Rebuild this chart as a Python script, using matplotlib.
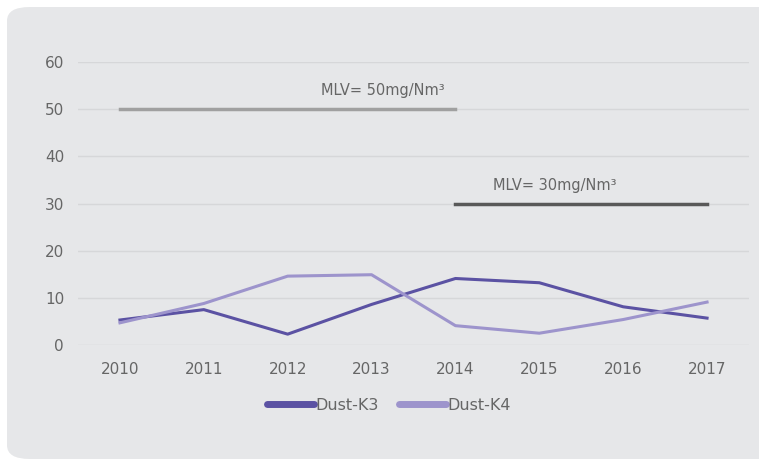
import matplotlib.pyplot as plt
from matplotlib.patches import FancyBboxPatch

# Dust emissions for kilns K3 and K4, with the max limit values
years = ["2010", "2011", "2012", "2013", "2014", "2015", "2016", "2017"]
dust_k3 = [5.3, 7.5, 2.3, 8.6, 14.1, 13.2, 8.1, 5.7]
dust_k4 = [4.7, 8.8, 14.6, 14.9, 4.1, 2.5, 5.4, 9.1]

mlv_old = 50
mlv_old_years = ["2010", "2014"]
mlv_new = 30
mlv_new_years = ["2014", "2017"]

BG = "#e6e7e9"
TEXT = "#666666"

fig = plt.figure(figsize=(7.59, 4.59), dpi=100)
fig.patch.set_facecolor("white")

# rounded grey card behind the chart, running off the right edge
panel = FancyBboxPatch(
    (7 / 759, 0.0), 1.05, 1 - 7 / 459,
    boxstyle="round,pad=0,rounding_size=0.03",
    transform=fig.transFigure,
    facecolor=BG, edgecolor="none", zorder=-10,
)
fig.patches.append(panel)

ax = fig.add_axes([78 / 759, 1 - 345 / 459, (749 - 78) / 759, (345 - 62) / 459])
ax.patch.set_alpha(0)

x = list(range(len(years)))
ax.plot(x, dust_k3, color="#5b52a3", lw=2.2, label="Dust-K3", zorder=3)
ax.plot(x, dust_k4, color="#9d94cc", lw=2.2, label="Dust-K4", zorder=3)

i0, i1 = years.index(mlv_old_years[0]), years.index(mlv_old_years[1])
ax.plot([i0, i1], [mlv_old, mlv_old], color="#a0a0a0", lw=2.5, zorder=2)
j0, j1 = years.index(mlv_new_years[0]), years.index(mlv_new_years[1])
ax.plot([j0, j1], [mlv_new, mlv_new], color="#595959", lw=2.5, zorder=2)

ax.text(3.14, mlv_old + 2.3, "MLV= 50mg/Nm³", color=TEXT, fontsize=10.5,
        ha="center", va="bottom")
ax.text(5.19, mlv_new + 2.3, "MLV= 30mg/Nm³", color=TEXT, fontsize=10.5,
        ha="center", va="bottom")

ax.set_xlim(-0.5, len(years) - 0.5)
ax.set_ylim(0, 60)
ax.set_yticks(range(0, 61, 10))
ax.set_xticks(x)
ax.set_xticklabels(years)
ax.grid(axis="y", color="#d6d7d9", lw=1)
ax.set_axisbelow(True)
for s in ax.spines.values():
    s.set_visible(False)
ax.tick_params(length=0, colors=TEXT, labelsize=11)
ax.tick_params(axis="x", pad=12)
ax.tick_params(axis="y", pad=10)

leg = fig.legend(
    loc="center", bbox_to_anchor=(389 / 759, 1 - 405 / 459), ncol=2,
    frameon=False, fontsize=11.5, handlelength=2.9, handletextpad=0.1,
    columnspacing=1.3,
)
for line in leg.get_lines():
    line.set_linewidth(5)
    line.set_solid_capstyle("round")
for t in leg.get_texts():
    t.set_color(TEXT)

fig.savefig("out.png", dpi=100, facecolor=fig.get_facecolor())
